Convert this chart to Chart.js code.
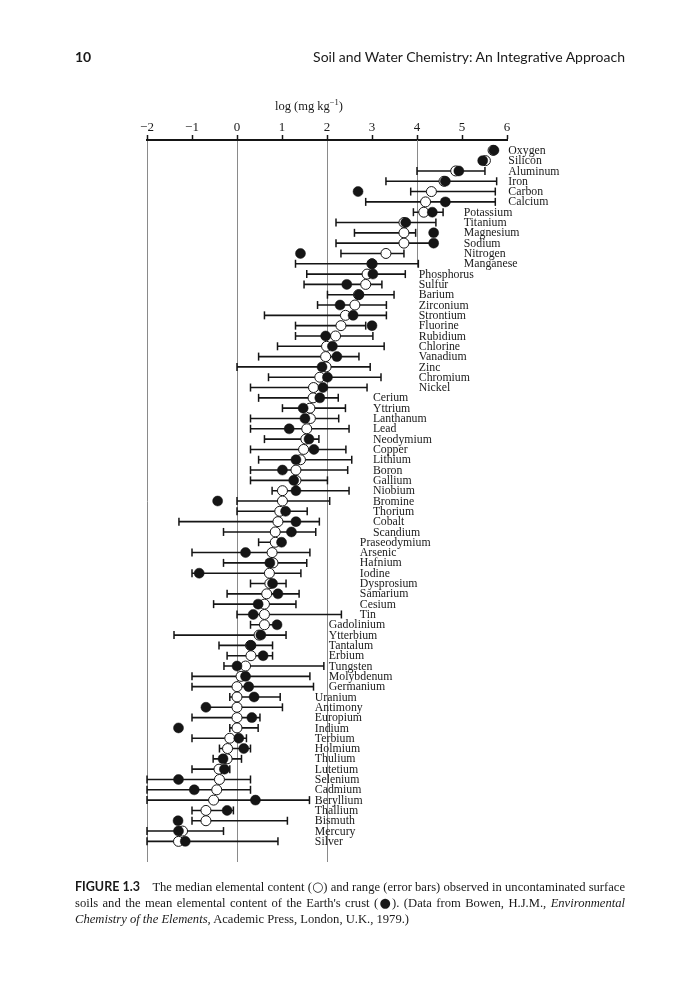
<!DOCTYPE html>
<html>
<head>
<meta charset="utf-8">
<script src="https://cdn.jsdelivr.net/npm/chart.js@4.4.1/dist/chart.umd.min.js"></script>
<style>
html,body{margin:0;padding:0;background:#fff;}
#page{position:relative;width:700px;height:1000px;overflow:hidden;background:#fff;}
#c{position:absolute;left:0;top:0;}
.t{position:absolute;white-space:nowrap;color:#1a1a1a;}
#pnum{left:75px;top:49px;font:bold 14px Lato,"Liberation Sans",sans-serif;line-height:16px;}
#rhead{right:75px;top:49px;font:14px Lato,"Liberation Sans",sans-serif;line-height:16px;}
#xtitle{left:309px;top:98px;transform:translateX(-50%);font:12.5px "Liberation Serif",serif;line-height:16px;}
#xtitle sup{font-size:8.5px;vertical-align:5px;line-height:0;}
#cap{position:absolute;left:75px;top:879px;width:550px;font:12.6px "Liberation Serif",serif;line-height:16px;text-align:justify;color:#1a1a1a;}
#cap b{font:bold 12.5px Lato,"Liberation Sans",sans-serif;}
#cap .sym{font-family:"DejaVu Sans",sans-serif;font-size:13px;line-height:0;}
</style>
</head>
<body>
<div id="page">
<canvas id="c" width="700" height="1000"></canvas>
<div class="t" id="pnum">10</div>
<div class="t" id="rhead">Soil and Water Chemistry: An Integrative Approach</div>
<div class="t" id="xtitle">log (mg kg<sup>−1</sup>)</div>
<div id="cap"><b>FIGURE 1.3</b>&nbsp;&nbsp;&nbsp; The median elemental content (<span class="sym">○</span>) and range (error bars) observed in uncontaminated surface soils and the mean elemental content of the Earth's crust (<span class="sym">●</span>). (Data from Bowen, H.J.M., <i>Environmental Chemistry of the Elements</i>, Academic Press, London, U.K., 1979.)</div>
</div>
<script>
// ---- data (log10 mg/kg) ----
const elements = ["Oxygen","Silicon","Aluminum","Iron","Carbon","Calcium","Potassium","Titanium","Magnesium","Sodium","Nitrogen","Manganese",
  "Phosphorus","Sulfur","Barium","Zirconium","Strontium","Fluorine","Rubidium","Chlorine","Vanadium","Zinc","Chromium","Nickel",
  "Cerium","Yttrium","Lanthanum","Lead","Neodymium","Copper","Lithium","Boron","Gallium","Niobium","Bromine","Thorium","Cobalt","Scandium",
  "Praseodymium","Arsenic","Hafnium","Iodine","Dysprosium","Samarium","Cesium","Tin",
  "Gadolinium","Ytterbium","Tantalum","Erbium","Tungsten","Molybdenum","Germanium",
  "Uranium","Antimony","Europium","Indium","Terbium","Holmium","Thulium","Lutetium","Selenium","Cadmium","Beryllium","Thallium","Bismuth","Mercury","Silver"];
const soilMedian = [5.69,5.52,4.86,4.60,4.32,4.19,4.15,3.71,3.71,3.71,3.31,3.00,
  2.89,2.86,2.70,2.62,2.41,2.31,2.19,1.99,1.97,1.98,1.84,1.70,
  1.69,1.62,1.63,1.55,1.53,1.48,1.41,1.31,1.31,1.01,1.01,0.95,0.91,0.85,
  0.85,0.78,0.80,0.72,0.73,0.66,0.61,0.61,
  0.61,0.49,0.30,0.31,0.19,0.09,0.00,
  0.00,0.00,0.00,0.00,-0.16,-0.21,-0.22,-0.40,-0.39,-0.45,-0.52,-0.69,-0.69,-1.21,-1.30];
const rangeLow = [null,null,4.00,3.31,3.86,2.86,3.92,2.20,2.61,2.20,2.31,1.30,
  1.55,1.49,2.01,1.79,0.61,1.30,1.30,0.90,0.48,0.00,0.70,0.30,
  0.48,1.01,0.30,0.30,0.61,0.30,0.48,0.30,0.30,0.78,0.00,0.00,-1.29,-0.30,
  0.48,-1.00,-0.30,-1.00,0.30,-0.22,-0.52,0.00,
  0.30,-1.40,-0.40,-0.22,-0.29,-1.00,-1.00,
  -0.16,-0.70,-1.00,-0.16,-1.00,-0.39,-0.53,-1.00,-2.00,-2.00,-2.00,-1.00,-1.00,-2.00,-2.00];
const rangeHigh = [null,null,5.51,5.77,5.74,5.74,4.58,4.42,3.97,4.37,3.71,4.03,
  3.74,3.22,3.49,3.32,3.32,2.86,3.02,3.27,2.71,2.96,3.20,2.89,
  2.25,2.41,2.26,2.49,1.82,2.42,2.55,2.46,2.01,2.49,2.06,1.56,1.83,1.75,
  1.04,1.62,1.55,1.42,1.09,1.38,1.31,2.32,
  0.93,1.09,0.79,0.79,1.93,1.62,1.70,
  0.96,1.01,0.51,0.47,0.21,0.30,0.10,-0.16,0.30,0.30,1.61,-0.08,1.12,-0.30,0.91];
const crustMean = [5.71,5.46,4.93,4.63,2.69,4.63,4.34,3.75,4.37,4.37,1.41,3.00,
  3.02,2.44,2.71,2.29,2.58,3.00,1.97,2.12,2.22,1.89,2.01,1.91,
  1.84,1.47,1.51,1.16,1.60,1.71,1.31,1.01,1.26,1.31,-0.43,1.08,1.31,1.21,
  0.99,0.19,0.73,-0.84,0.79,0.91,0.47,0.36,
  0.89,0.53,0.31,0.58,0.00,0.19,0.26,
  0.38,-0.69,0.33,-1.30,0.04,0.15,-0.31,-0.28,-1.30,-0.95,0.41,-0.22,-1.31,-1.30,-1.15];
const xTicks = [-2,-1,0,1,2,3,4,5,6];
const fullGridAt = [-2,0,2];

// ---- layout: where each block of element names starts (data units) ----
const labelColumns = [
  {first:0, last:5, x:6.03},
  {first:6, last:11, x:5.04},
  {first:12, last:23, x:4.04},
  {first:24, last:37, x:3.02},
  {first:38, last:45, x:2.73},
  {first:46, last:52, x:2.04},
  {first:53, last:67, x:1.73}
];

const ink = '#151515';
const crustPts = crustMean.map((v,i)=>({x:v,y:i}));
const medianPts = soilMedian.map((v,i)=>({x:v,y:i}));
const rangePts = [], capPts = [];
elements.forEach((e,i)=>{
  if (rangeLow[i] !== null && rangeHigh[i] !== null) {
    rangePts.push({x:rangeLow[i],y:i},{x:rangeHigh[i],y:i},{x:null,y:null});
    capPts.push({x:rangeLow[i],y:i},{x:rangeHigh[i],y:i});
  }
});

const overlay = {
  id:'overlay',
  beforeDatasetsDraw(chart){
    const {ctx, chartArea, scales:{x,y}} = chart;
    ctx.save();
    ctx.strokeStyle = '#8a8a8a'; ctx.lineWidth = 1;
    const px = Math.round(x.getPixelForValue(4)) + 0.5;
    ctx.beginPath();
    ctx.moveTo(px, chartArea.top);
    ctx.lineTo(px, y.getPixelForValue(11.35));
    ctx.stroke();
    ctx.restore();
  },
  afterDatasetsDraw(chart){
    const {ctx, scales:{x,y}} = chart;
    ctx.save();
    ctx.fillStyle = '#1a1a1a';
    ctx.font = '11.8px "Liberation Serif", serif';
    ctx.textBaseline = 'middle';
    ctx.textAlign = 'left';
    labelColumns.forEach(col=>{
      for (let i = col.first; i <= col.last; i++) {
        ctx.fillText(elements[i], x.getPixelForValue(col.x), y.getPixelForValue(i) + 0.5);
      }
    });
    ctx.restore();
  }
};

new Chart(document.getElementById('c'), {
  type:'scatter',
  data:{ datasets:[
    {label:'Crust mean', data:crustPts, pointRadius:5, pointBackgroundColor:ink, pointBorderColor:ink, pointBorderWidth:0.5, clip:false},
    {label:'Soil median', data:medianPts, pointRadius:5, pointBackgroundColor:'#fff', pointBorderColor:ink, pointBorderWidth:1, clip:false},
    {label:'Caps', data:capPts, pointStyle:'line', pointRotation:90, pointRadius:4, pointBorderColor:ink, pointBorderWidth:1.5, clip:false},
    {label:'Range', data:rangePts, showLine:true, spanGaps:false, pointRadius:0, borderColor:ink, borderWidth:1.6, clip:false}
  ]},
  options:{
    responsive:false,
    animation:false,
    events:[],
    layout:{padding:{left:147, right:193, top:119.4, bottom:138}},
    plugins:{legend:{display:false}, tooltip:{enabled:false}},
    scales:{
      x:{
        type:'linear', position:'top', min:-2, max:6,
        afterBuildTicks: s => { s.ticks = xTicks.map(v=>({value:v})); },
        ticks:{ font:{family:'"Liberation Serif", serif', size:13}, color:'#1a1a1a', padding:0, maxRotation:0, autoSkip:false,
          callback: v => String(v).replace('-', '\u2212') },
        grid:{ drawOnChartArea:true, lineWidth:1, tickLength:5, tickWidth:1.5, tickColor:ink,
          color: c => (c.tick && fullGridAt.includes(c.tick.value)) ? '#8a8a8a' : 'rgba(0,0,0,0)' },
        border:{display:true, color:ink, width:2}
      },
      y:{ type:'linear', reverse:true, min:-1, max:69, display:false }
    }
  },
  plugins:[overlay]
});
</script>
</body>
</html>
